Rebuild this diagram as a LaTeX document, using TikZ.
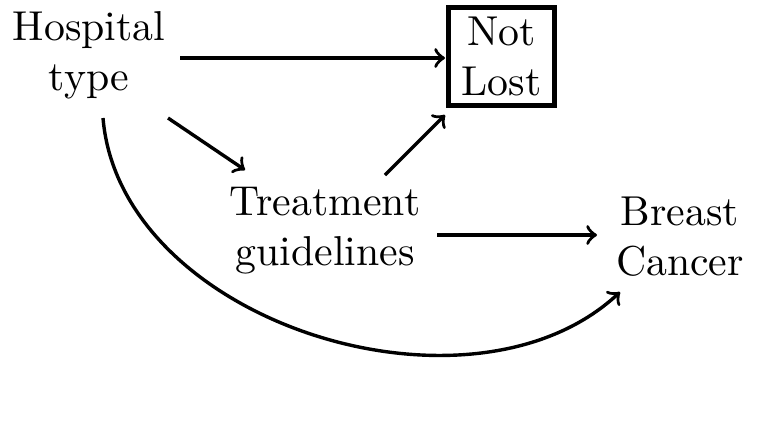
\documentclass[tikz,border=0pt]{standalone}
\begin{document}
\begin{tikzpicture}[x=0.25pt,y=-0.25pt,
  lbl/.style={align=center,inner sep=1pt,font=\fontsize{10.45}{12.5}\selectfont},
  boxed/.style={lbl,draw,very thick,minimum width=26.4pt,minimum height=24.6pt,inner sep=0pt},
  arr/.style={->,line width=0.85pt}]
\useasboundingbox (0,0) rectangle (757,433);
\node[lbl] (hosp) at (89,55) {Hospital\\type};
\node[boxed] (lost) at (501.5,56.5) {Not\\Lost};
\node[lbl] (treat) at (325,231) {Treatment\\guidelines};
\node[lbl] (breast) at (680,237) {Breast\\Cancer};
\coordinate (h1) at (180,58);
\coordinate (h2) at (168,118);
\coordinate (h3) at (103,118);
\coordinate (t1) at (385,175);
\coordinate (t2) at (437,235);
\coordinate (l1) at (445,58);
\coordinate (l2) at (445,115);
\coordinate (tt) at (245,170);
\coordinate (b1) at (597,235);
\coordinate (b2) at (620,292);
\draw[arr] (h1) -- (l1);
\draw[arr] (h2) -- (tt);
\draw[arr] (t1) -- (l2);
\draw[arr] (t2) -- (b1);
\draw[arr] (h3) .. controls (120,322) and (470,432) .. (b2);
\end{tikzpicture}
\end{document}
